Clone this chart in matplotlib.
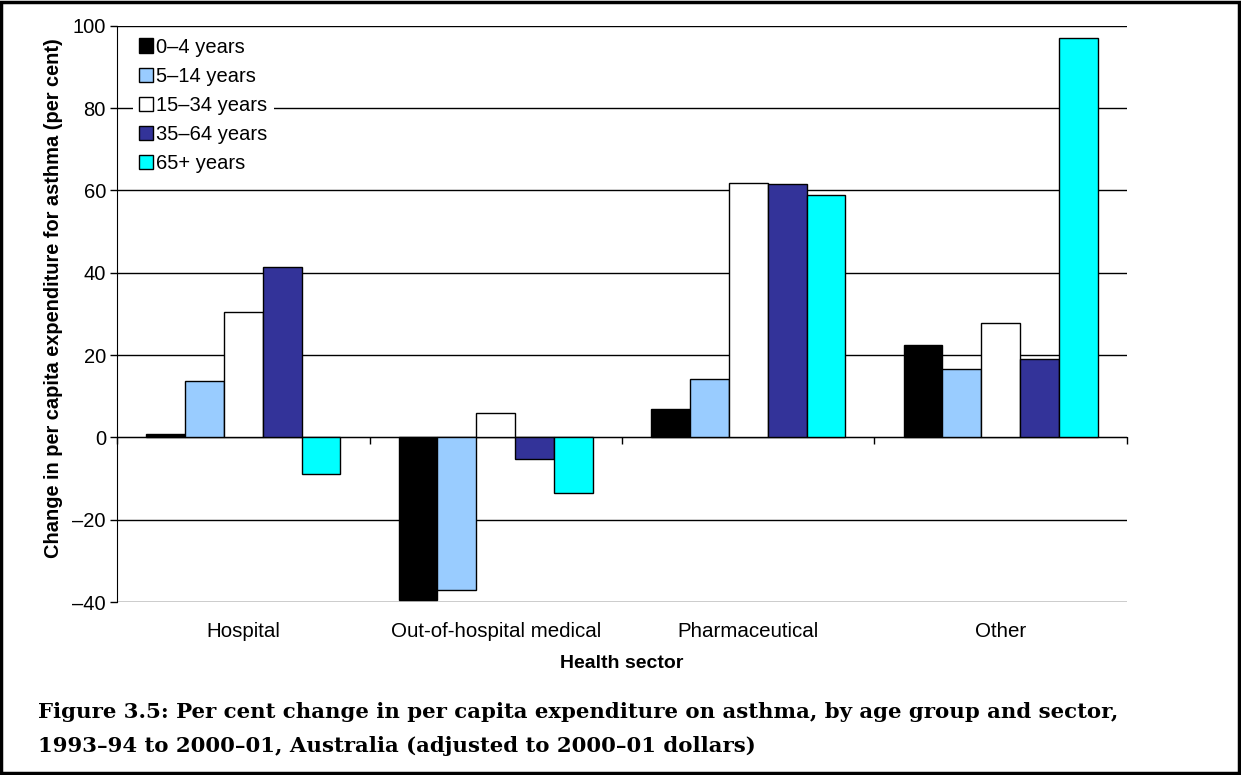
import matplotlib.pyplot as plt
import numpy as np
from matplotlib.patches import Rectangle

plt.rcParams['font.family'] = ['Liberation Sans', 'DejaVu Sans']

sectors = ['Hospital', 'Out-of-hospital medical', 'Pharmaceutical', 'Other']
age_groups = ['0–4 years', '5–14 years', '15–34 years', '35–64 years', '65+ years']
colors = ['#000000', '#99CCFF', '#FFFFFF', '#333399', '#00FFFF']

# per cent change, one list per age group (Hospital, Out-of-hospital, Pharma, Other)
age_0_4 = [0.9, -39.5, 7.0, 22.5]
age_5_14 = [13.6, -37.0, 14.3, 16.7]
age_15_34 = [30.5, 5.8, 61.8, 27.9]
age_35_64 = [41.4, -5.3, 61.5, 19.1]
age_65_plus = [-8.8, -13.6, 58.9, 97.0]
series = [age_0_4, age_5_14, age_15_34, age_35_64, age_65_plus]

fig = plt.figure(figsize=(12.41, 7.75), dpi=100)
ax = fig.add_axes([0.0943, 0.2232, 0.9081 - 0.0943, 0.9668 - 0.2232])

x = np.arange(len(sectors))
width = 0.154
for i, (vals, lab, col) in enumerate(zip(series, age_groups, colors)):
    ax.bar(x + (i - 2) * width, vals, width, label=lab, color=col,
           edgecolor='black', linewidth=1.0, zorder=3)

ax.set_xlim(-0.5, 3.5)
ax.set_ylim(-40, 100)
yt = np.arange(-40, 101, 20)
ax.set_yticks(yt)
ax.set_yticklabels([str(v).replace('-', '–') for v in yt], fontsize=14.5)
ax.tick_params(axis='y', direction='out', length=5, width=1, pad=3)
ax.yaxis.grid(True, color='black', linewidth=1.0, zorder=0)
ax.set_axisbelow(True)

# x axis sits on the zero line, ticks at category boundaries
ax.spines['bottom'].set_position(('data', 0))
ax.spines['top'].set_visible(False)
ax.spines['right'].set_visible(False)
ax.set_xticks(np.arange(-0.5, 3.6, 1.0))
ax.set_xticklabels([])
ax.tick_params(axis='x', direction='out', length=5, width=1)

for xi, name in zip(x, sectors):
    ax.text(xi, -0.052, name, transform=ax.get_xaxis_transform(),
            ha='center', va='center', fontsize=14.8)

ax.text(0.5, -0.106, 'Health sector', transform=ax.transAxes,
        ha='center', va='center', fontsize=14, fontweight='bold')
fig.text(0.0435, 0.615, 'Change in per capita expenditure for asthma (per cent)',
         rotation=90, ha='center', va='center', fontsize=14.4, fontweight='bold')

leg = ax.legend(loc='upper left', bbox_to_anchor=(0.012, 0.997), fontsize=14.5,
                frameon=True, facecolor='white', edgecolor='none', framealpha=1,
                handlelength=0.7, handleheight=0.7, handletextpad=0.15,
                labelspacing=0.5, borderpad=0.3, borderaxespad=0.2)
leg.set_zorder(5)

fig.text(0.031, 0.0594, 'Figure 3.5: Per cent change in per capita expenditure on asthma, by age group and sector,\n'
         '1993–94 to 2000–01, Australia (adjusted to 2000–01 dollars)',
         ha='left', va='center', fontsize=15.3, fontweight='bold',
         family=['DejaVu Serif'], linespacing=1.85)

fig.patches.append(Rectangle((0.001, 0.002), 0.997, 0.996, transform=fig.transFigure,
                             fill=False, edgecolor='black', linewidth=2.5))

fig.savefig('out.png', dpi=100)
